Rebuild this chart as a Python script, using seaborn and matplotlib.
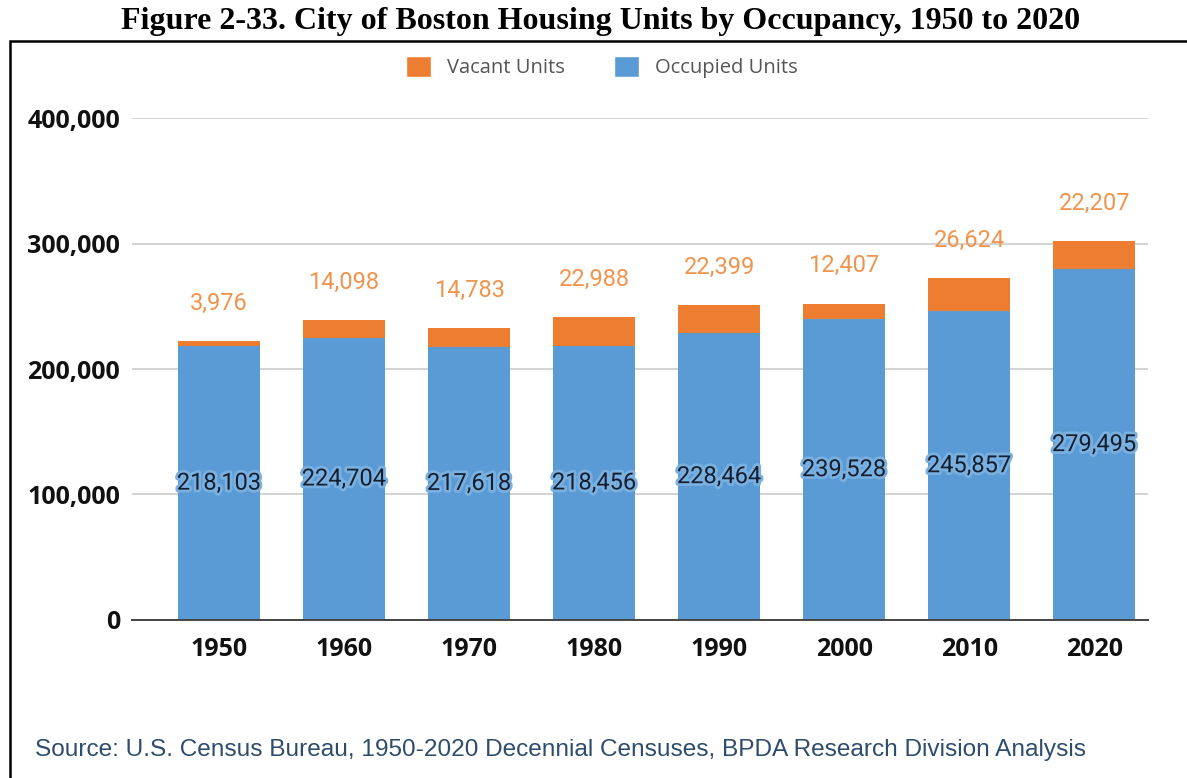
import matplotlib
matplotlib.use("Agg")
from matplotlib import pyplot as plt
from matplotlib.patches import Patch, Rectangle
import matplotlib.patheffects as pe
import matplotlib.ticker as mticker
import seaborn as sns
import pandas as pd

# data
years = ["1950", "1960", "1970", "1980", "1990", "2000", "2010", "2020"]
occupied = [218103, 224704, 217618, 218456, 228464, 239528, 245857, 279495]
vacant = [3976, 14098, 14783, 22988, 22399, 12407, 26624, 22207]

df = pd.DataFrame({"year": years, "occupied": occupied, "vacant": vacant})
df["total"] = df["occupied"] + df["vacant"]

blue = "#5b9bd5"
orange = "#ed7d31"

sns.set_theme(style="white")

fig = plt.figure(figsize=(11.87, 7.78), dpi=100)
ax = fig.add_axes([0.1112, 0.2031, 0.8559, 0.6452])

# stacked bars: total in orange first, occupied in blue on top of it
sns.barplot(data=df, x="year", y="total", color=orange, saturation=1,
            width=0.656, linewidth=0, ax=ax, zorder=2)
sns.barplot(data=df, x="year", y="occupied", color=blue, saturation=1,
            width=0.656, linewidth=0, ax=ax, zorder=3)

ax.set_ylim(0, 400000)
ax.set_xlim(-0.696, 7.43)
ax.yaxis.set_major_locator(mticker.MultipleLocator(100000))
ax.yaxis.set_major_formatter(mticker.FuncFormatter(lambda v, p: f"{int(v):,}"))
ax.grid(axis="y", color="#d0d0d0", linewidth=1.3, zorder=0)
ax.set_axisbelow(True)
for s in ["top", "right", "left"]:
    ax.spines[s].set_visible(False)
ax.spines["bottom"].set_color("#444444")
ax.spines["bottom"].set_linewidth(1.4)
ax.spines["bottom"].set_zorder(4)
ax.set_xlabel("")
ax.set_ylabel("")
ax.tick_params(axis="y", length=0, pad=8.5)
ax.tick_params(axis="x", length=0, pad=12)
for lab in ax.get_yticklabels() + ax.get_xticklabels():
    lab.set_fontfamily("Open Sans")
    lab.set_fontweight("bold")
    lab.set_fontsize(18)
    lab.set_color("#111111")

# value labels
vac_bars = ax.containers[0]
occ_bars = ax.containers[1]
ax.bar_label(vac_bars, labels=[f"{v:,}" for v in vacant], padding=19,
             color="#f0944d", fontsize=17, fontfamily="Roboto")
occ_txt = ax.bar_label(occ_bars, labels=[f"{v:,}" for v in occupied],
                       label_type="center", color="#141f30", fontsize=17,
                       fontfamily="Roboto")
for t in occ_txt:
    t.set_path_effects([pe.withStroke(linewidth=4, foreground="#7ab0e0")])
    t.set_zorder(5)

# legend
handles = [Patch(facecolor=orange, label="Vacant Units"),
           Patch(facecolor=blue, label="Occupied Units")]
fig.legend(handles=handles, loc="center", bbox_to_anchor=(0.507, 0.914),
           ncol=2, frameon=False, handlelength=1.25, handleheight=1.25,
           columnspacing=2.4, handletextpad=0.8,
           prop={"family": "Open Sans", "size": 14.5}, labelcolor="#555555")

# title and frame
fig.text(0.506, 0.973, "Figure 2-33. City of Boston Housing Units by Occupancy, 1950 to 2020",
         ha="center", va="center", fontfamily="Liberation Serif",
         fontweight="bold", fontsize=23, color="black")
fig.patches.append(Rectangle((0.0084, -0.2), 1.2, 0.2 + 0.947,
                             transform=fig.transFigure, fill=False,
                             edgecolor="black", linewidth=1.8, clip_on=False))

fig.text(0.0295, 0.036,
         "Source: U.S. Census Bureau, 1950-2020 Decennial Censuses, BPDA Research Division Analysis",
         ha="left", va="center", fontfamily="Liberation Sans", fontsize=17.6,
         color="#2e4c6c")

fig.savefig("out.png", dpi=100)
